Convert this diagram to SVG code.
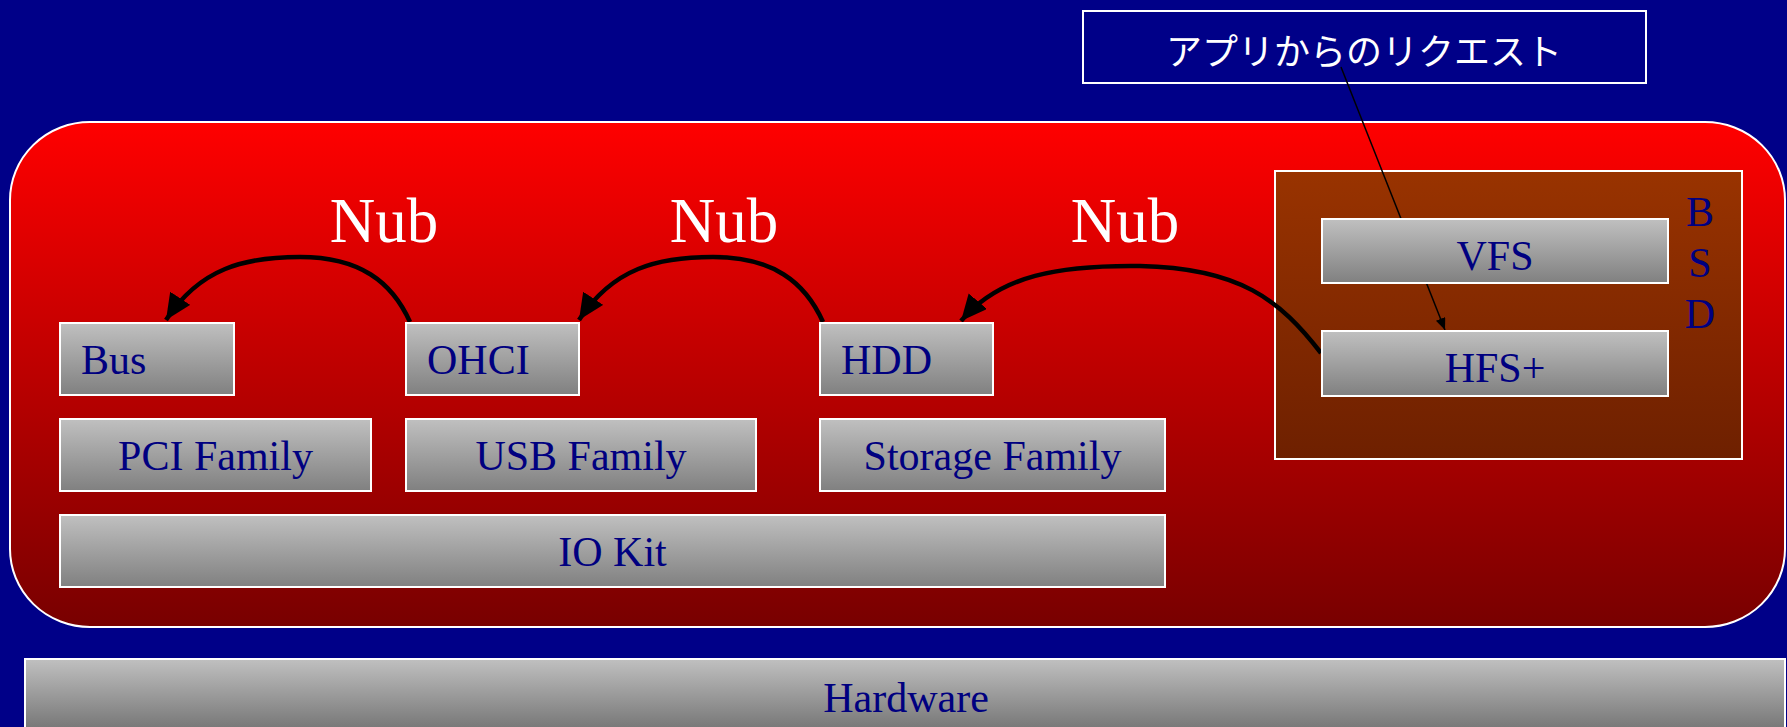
<svg xmlns="http://www.w3.org/2000/svg" width="1787" height="727" viewBox="0 0 1787 727">
<defs>
<linearGradient id="gRed" x1="0" y1="0" x2="0" y2="1"><stop offset="0" stop-color="#FF0000"/><stop offset="1" stop-color="#780000"/></linearGradient>
<linearGradient id="gBsd" x1="0" y1="0" x2="0" y2="1"><stop offset="0" stop-color="#993300"/><stop offset="1" stop-color="#6E2000"/></linearGradient>
<linearGradient id="gGray" x1="0" y1="0" x2="0" y2="1"><stop offset="0" stop-color="#C0C0C0"/><stop offset="1" stop-color="#808080"/></linearGradient>
<linearGradient id="gHw" x1="0" y1="0" x2="0" y2="1"><stop offset="0" stop-color="#C0C0C0"/><stop offset="1" stop-color="#626262"/></linearGradient>
<marker id="ahBig" markerUnits="userSpaceOnUse" markerWidth="30" markerHeight="26" refX="26" refY="12" orient="auto"><path d="M0,0 L26,12 L0,24 Z" fill="#000"/></marker>
<marker id="ahSmall" markerUnits="userSpaceOnUse" markerWidth="14" markerHeight="12" refX="12" refY="5" orient="auto"><path d="M0,0 L12,5 L0,10 Z" fill="#000"/></marker>
</defs>
<style>
.box{fill:url(#gGray);stroke:#FFFFFF;stroke-width:2}
.lbl{font-family:"Liberation Serif","Times New Roman",serif;font-size:42px;fill:#000080}
.nub{font-family:"Liberation Serif","Times New Roman",serif;font-size:63px;fill:#FFFFFF;text-anchor:middle}
.mid{text-anchor:middle}
.conn{fill:none;stroke:#000;stroke-width:4.5}
.thin{fill:none;stroke:#000;stroke-width:1.5}
</style>
<rect x="0" y="0" width="1787" height="727" fill="#000088"/>

<g id="request">
<rect x="1083" y="11" width="563" height="72" fill="#000088" stroke="#FFFFFF" stroke-width="2"/>
<text x="1364" y="65" text-anchor="middle" font-family="'Noto Sans CJK JP','Noto Sans',sans-serif" font-size="36" fill="#FFFFFF">アプリからのリクエスト</text>
</g>

<g id="kernel">
<rect x="10" y="122" width="1775" height="505" rx="80" ry="78" fill="url(#gRed)" stroke="#FFFFFF" stroke-width="2"/>
</g>

<g id="bsd">
<rect x="1275" y="171" width="467" height="288" fill="url(#gBsd)" stroke="#FFFFFF" stroke-width="2"/>
<text class="lbl mid" x="1700" y="226" font-size="44">B</text>
<text class="lbl mid" x="1700" y="277" font-size="44">S</text>
<text class="lbl mid" x="1700" y="328" font-size="44">D</text>
</g>

<g id="connectors">
<path class="thin" d="M1341,67 L1445,330" marker-end="url(#ahSmall)"/>
<path class="conn" d="M410,322 C392,282 360,257 300,257 C245,257 200,268 166,320" marker-end="url(#ahBig)"/>
<path class="conn" d="M823,322 C805,282 773,257 713,257 C658,257 613,268 579,320" marker-end="url(#ahBig)"/>
<path class="conn" d="M1321,353 C1280,300 1240,268 1140,266 C1060,265 1000,275 961,321" marker-end="url(#ahBig)"/>
</g>

<g id="nub-labels">
<text class="nub" x="384" y="242">Nub</text>
<text class="nub" x="724" y="242">Nub</text>
<text class="nub" x="1125" y="242">Nub</text>
</g>

<g id="vfs"><rect class="box" x="1322" y="219" width="346" height="64"/><text class="lbl mid" x="1495" y="270">VFS</text></g>
<g id="hfs"><rect class="box" x="1322" y="331" width="346" height="65"/><text class="lbl mid" x="1495" y="382">HFS+</text></g>

<g id="bus"><rect class="box" x="60" y="323" width="174" height="72"/><text class="lbl" x="81" y="374">Bus</text></g>
<g id="ohci"><rect class="box" x="406" y="323" width="173" height="72"/><text class="lbl" x="427" y="374">OHCI</text></g>
<g id="hdd"><rect class="box" x="820" y="323" width="173" height="72"/><text class="lbl" x="841" y="374">HDD</text></g>

<g id="pci"><rect class="box" x="60" y="419" width="311" height="72"/><text class="lbl mid" x="215.5" y="470">PCI Family</text></g>
<g id="usb"><rect class="box" x="406" y="419" width="350" height="72"/><text class="lbl mid" x="581" y="470">USB Family</text></g>
<g id="storage"><rect class="box" x="820" y="419" width="345" height="72"/><text class="lbl mid" x="992.5" y="470">Storage Family</text></g>

<g id="iokit"><rect class="box" x="60" y="515" width="1105" height="72"/><text class="lbl mid" x="612.5" y="566">IO Kit</text></g>

<g id="hardware"><rect x="25" y="659" width="1760" height="90" fill="url(#gHw)" stroke="#FFFFFF" stroke-width="2"/><text class="lbl mid" x="906" y="712">Hardware</text></g>
</svg>
